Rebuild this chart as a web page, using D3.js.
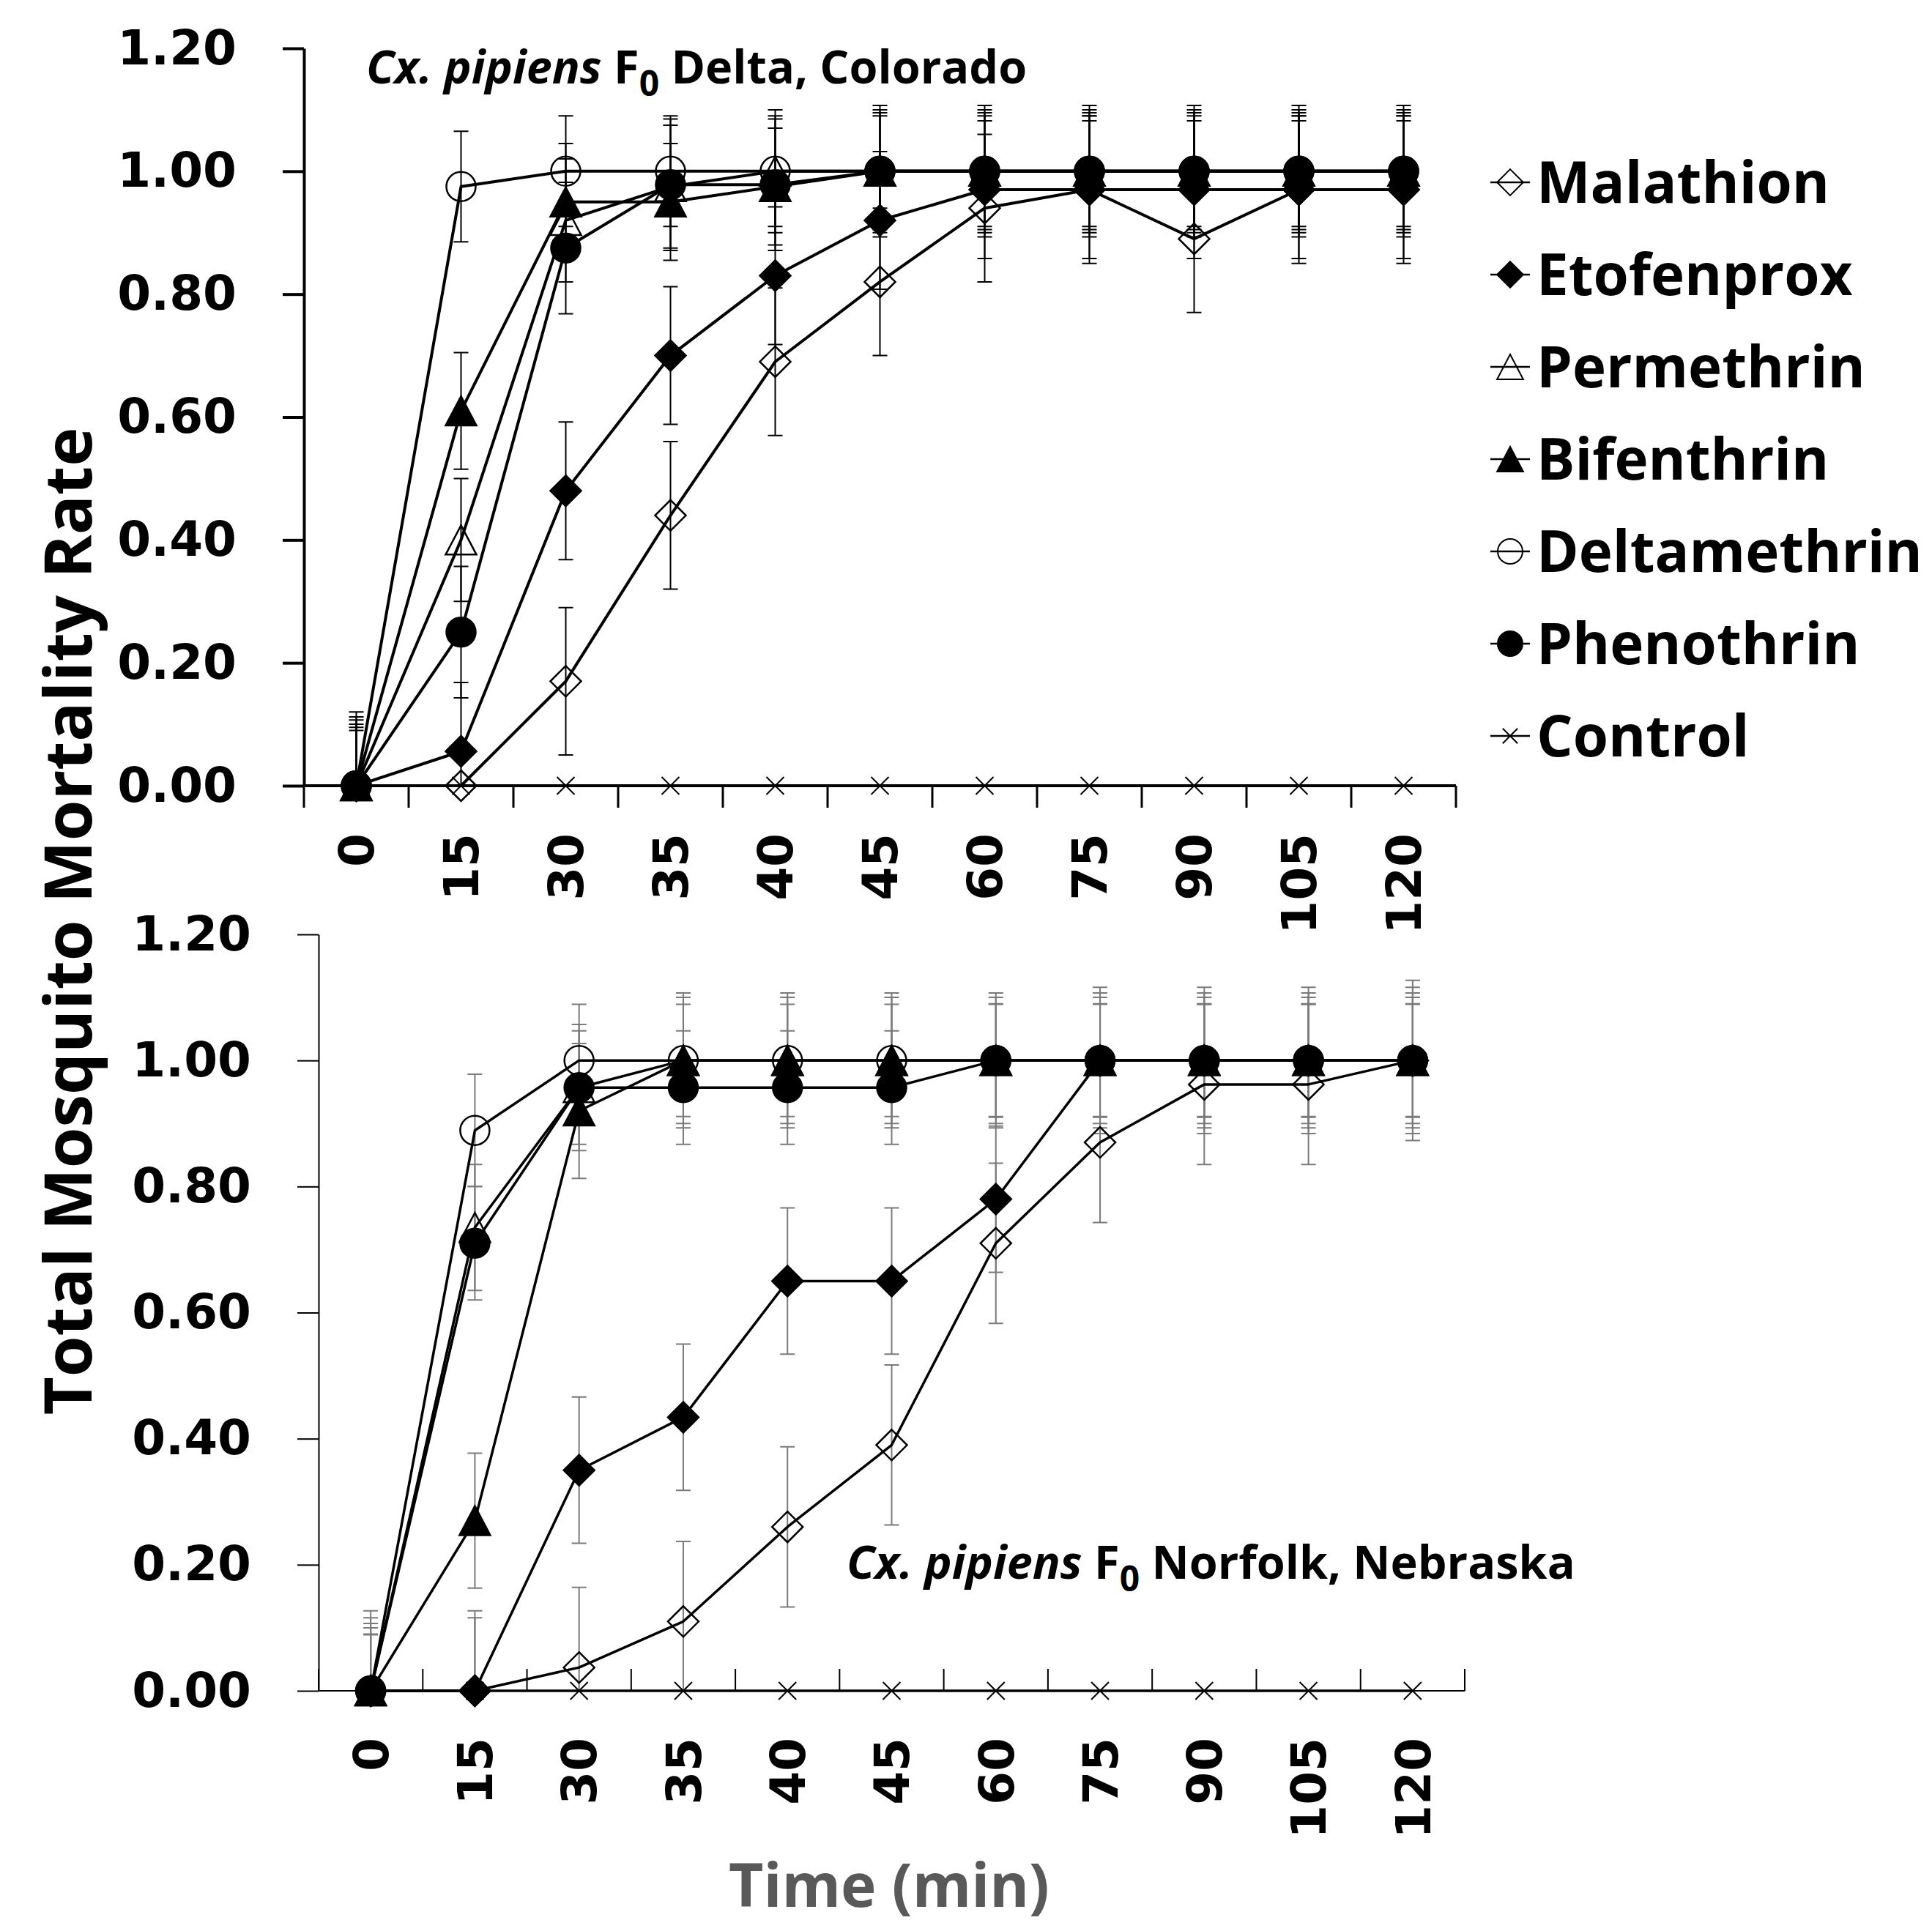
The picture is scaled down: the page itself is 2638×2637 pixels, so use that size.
<!DOCTYPE html>
<html>
<head>
<meta charset="utf-8">
<script src="https://cdn.jsdelivr.net/npm/d3@7"></script>
<style>
  body { margin: 0; background: #fff; }
  svg { display: block; }
</style>
</head>
<body>
<div id="chart"></div>
<script>
(function () {

	// x categories (minutes) and y ticks
	var times = ["0", "15", "30", "35", "40", "45", "60", "75", "90", "105", "120"];
	var yTicks = [0, 0.2, 0.4, 0.6, 0.8, 1.0, 1.2];
	var seriesNames = ["Malathion", "Etofenprox", "Permethrin", "Bifenthrin", "Deltamethrin", "Phenothrin", "Control"];

	// Cx. pipiens F0 Delta, Colorado
	var coMalathion    = [0, 0, 0.17, 0.44, 0.69, 0.82, 0.94, 0.97, 0.89, 0.97, 0.97];
	var coEtofenprox   = [0, 0.056, 0.48, 0.70, 0.83, 0.92, 0.97, 0.97, 0.97, 0.97, 0.97];
	var coPermethrin   = [0, 0.40, 0.92, 0.975, 1, 1, 1, 1, 1, 1, 1];
	var coBifenthrin   = [0, 0.61, 0.95, 0.95, 0.975, 1, 1, 1, 1, 1, 1];
	var coDeltamethrin = [0, 0.975, 1, 1, 1, 1, 1, 1, 1, 1, 1];
	var coPhenothrin   = [0, 0.25, 0.875, 0.978, 0.978, 1, 1, 1, 1, 1, 1];
	var coControl      = [0, 0, 0, 0, 0, 0, 0, 0, 0, 0, 0];

	var coMalathionErr    = [0.12, 0, 0.12, 0.12, 0.12, 0.12, 0.12, 0.12, 0.12, 0.12, 0.12];
	var coEtofenproxErr   = [0.112, 0.112, 0.112, 0.112, 0.112, 0.112, 0.112, 0.112, 0.112, 0.112, 0.112];
	var coPermethrinErr   = [0.10, 0.10, 0.10, 0.10, 0.10, 0.10, 0.10, 0.10, 0.10, 0.10, 0.10];
	var coBifenthrinErr   = [0.095, 0.095, 0.095, 0.095, 0.095, 0.095, 0.095, 0.095, 0.095, 0.095, 0.095];
	var coDeltamethrinErr = [0.09, 0.09, 0.09, 0.09, 0.09, 0.09, 0.09, 0.09, 0.09, 0.09, 0.09];
	var coPhenothrinErr   = [0.107, 0.107, 0.107, 0.107, 0.107, 0.107, 0.107, 0.107, 0.107, 0.107, 0.107];
	var coControlErr      = [0, 0, 0, 0, 0, 0, 0, 0, 0, 0, 0];

	// Cx. pipiens F0 Norfolk, Nebraska
	var neMalathion    = [0, 0, 0.037, 0.11, 0.26, 0.39, 0.71, 0.87, 0.962, 0.962, 1];
	var neEtofenprox   = [0, 0, 0.35, 0.434, 0.65, 0.65, 0.78, 1, 1, 1, 1];
	var nePermethrin   = [0, 0.735, 0.957, 1, 1, 1, 1, 1, 1, 1, 1];
	var neBifenthrin   = [0, 0.27, 0.92, 1, 1, 1, 1, 1, 1, 1, 1];
	var neDeltamethrin = [0, 0.889, 1, 1, 1, 1, 1, 1, 1, 1, 1];
	var nePhenothrin   = [0, 0.71, 0.957, 0.957, 0.957, 0.957, 1, 1, 1, 1, 1];
	var neControl      = [0, 0, 0, 0, 0, 0, 0, 0, 0, 0, 0];

	var neMalathionErr    = [0.127, 0.127, 0.127, 0.127, 0.127, 0.127, 0.127, 0.127, 0.127, 0.127, 0.127];
	var neEtofenproxErr   = [0.116, 0.116, 0.116, 0.116, 0.116, 0.116, 0.116, 0.116, 0.116, 0.116, 0.116];
	var nePermethrinErr   = [0.10, 0.10, 0.10, 0.10, 0.10, 0.10, 0.10, 0.10, 0.10, 0.10, 0.10];
	var neBifenthrinErr   = [0.107, 0.107, 0.107, 0.107, 0.107, 0.107, 0.107, 0.107, 0.107, 0.107, 0.107];
	var neDeltamethrinErr = [0.089, 0.089, 0.089, 0.089, 0.089, 0.089, 0.089, 0.089, 0.089, 0.089, 0.089];
	var nePhenothrinErr   = [0.09, 0.09, 0.09, 0.09, 0.09, 0.09, 0.09, 0.09, 0.09, 0.09, 0.09];
	var neControlErr      = [0, 0, 0, 0, 0, 0, 0, 0, 0, 0, 0];

	var markers = {
		"Malathion":    { shape: "diamond",  fill: false },
		"Etofenprox":   { shape: "diamond",  fill: true },
		"Permethrin":   { shape: "triangle", fill: false },
		"Bifenthrin":   { shape: "triangle", fill: true },
		"Deltamethrin": { shape: "circle",   fill: false },
		"Phenothrin":   { shape: "circle",   fill: true },
		"Control":      { shape: "cross",    fill: false }
	};

	function buildSeries(values, errors) {
		return seriesNames.map(function (name, i) {
			return {
				name: name,
				points: times.map(function (t, j) {
					return { t: t, v: values[i][j], e: errors[i][j] };
				})
			};
		});
	}

	var colorado = buildSeries(
		[coMalathion, coEtofenprox, coPermethrin, coBifenthrin, coDeltamethrin, coPhenothrin, coControl],
		[coMalathionErr, coEtofenproxErr, coPermethrinErr, coBifenthrinErr, coDeltamethrinErr, coPhenothrinErr, coControlErr]);
	var nebraska = buildSeries(
		[neMalathion, neEtofenprox, nePermethrin, neBifenthrin, neDeltamethrin, nePhenothrin, neControl],
		[neMalathionErr, neEtofenproxErr, nePermethrinErr, neBifenthrinErr, neDeltamethrinErr, nePhenothrinErr, neControlErr]);

	var W = 2638, H = 2637;
	var boldFont = "'Open Sans', 'DejaVu Sans', sans-serif";
	var tickFont = "'DejaVu Sans', sans-serif";

	var svg = d3.select("#chart").append("svg")
		.attr("width", W)
		.attr("height", H)
		.attr("viewBox", "0 0 " + W + " " + H);

	function markerPath(shape, k) {
		k = k || 1;
		if (shape === "circle") return d3.symbol(d3.symbolCircle, Math.PI * 400 * k * k)();
		if (shape === "diamond") return "M0," + (-21 * k) + "L" + (21 * k) + ",0L0," + (21 * k) + "L" + (-21 * k) + ",0Z";
		if (shape === "triangle") return "M0," + (-20 * k) + "L" + (21 * k) + "," + (20 * k) + "L" + (-21 * k) + "," + (20 * k) + "Z";
		return "M" + (-12 * k) + "," + (-12 * k) + "L" + (12 * k) + "," + (12 * k) +
			"M" + (-12 * k) + "," + (12 * k) + "L" + (12 * k) + "," + (-12 * k);
	}

	function styleMarker(sel, m) {
		sel.attr("d", markerPath(m.shape))
			.attr("fill", m.fill ? "#000" : "none")
			.attr("stroke", "#000")
			.attr("stroke-width", m.shape === "cross" ? 2 : 2.5);
	}

	function drawPanel(cfg) {
		var g = svg.append("g");

		var x = d3.scaleBand().domain(times).range(cfg.xRange);
		var y = d3.scaleLinear().domain([0, 1.2]).range(cfg.yRange);
		var cx = function (t) { return x(t) + x.bandwidth() / 2; };

		g.append("clipPath").attr("id", cfg.id + "-clip")
			.append("rect")
			.attr("x", cfg.xRange[0] - 40)
			.attr("y", y(1.3))
			.attr("width", cfg.xRange[1] - cfg.xRange[0] + 80)
			.attr("height", y(0) - y(1.3));

		// y axis
		var yAxis = g.append("g")
			.attr("transform", "translate(" + cfg.xRange[0] + ",0)")
			.call(d3.axisLeft(y).tickValues(yTicks).tickSize(29).tickSizeOuter(0)
				.tickPadding(63).tickFormat(d3.format(".2f")));
		yAxis.selectAll("path, line").attr("stroke", "#000").attr("stroke-width", cfg.axisWidth);
		yAxis.selectAll("text")
			.attr("font-family", tickFont)
			.attr("font-weight", "bold")
			.attr("font-size", 66)
			.attr("fill", "#000");

		// x axis line and boundary ticks
		g.append("line")
			.attr("x1", cfg.xRange[0]).attr("x2", cfg.xRange[1])
			.attr("y1", y(0)).attr("y2", y(0))
			.attr("stroke", "#000").attr("stroke-width", cfg.axisWidth);

		var bounds = d3.range(times.length + 1).map(function (i) { return cfg.xRange[0] + i * x.step(); });
		g.selectAll(".xtick").data(bounds).enter().append("line")
			.attr("x1", function (d) { return d; })
			.attr("x2", function (d) { return d; })
			.attr("y1", y(0))
			.attr("y2", y(0) + cfg.tickDir * 30)
			.attr("stroke", "#000").attr("stroke-width", cfg.tickWidth);

		g.selectAll(".xlab").data(times).enter().append("text")
			.attr("transform", function (d) { return "translate(" + cx(d) + "," + cfg.labelTop + ") rotate(-90)"; })
			.attr("text-anchor", "end")
			.attr("dy", "0.36em")
			.attr("font-family", tickFont)
			.attr("font-weight", "bold")
			.attr("font-size", 66)
			.text(function (d) { return d; });

		// error bars
		var eb = g.append("g").attr("clip-path", "url(#" + cfg.id + "-clip)")
			.attr("stroke", cfg.errColor).attr("stroke-width", 2).attr("fill", "none");
		cfg.data.forEach(function (s) {
			var pts = s.points.filter(function (p) { return p.e > 0; });
			eb.selectAll(null).data(pts).enter().append("path")
				.attr("d", function (p) {
					var px = cx(p.t), y1 = y(p.v + p.e), y2 = y(p.v - p.e);
					return "M" + px + "," + y1 + "V" + y2 +
						"M" + (px - 10) + "," + y1 + "H" + (px + 10) +
						"M" + (px - 10) + "," + y2 + "H" + (px + 10);
				});
		});

		// series lines and markers
		var line = d3.line().x(function (p) { return cx(p.t); }).y(function (p) { return y(p.v); });
		cfg.data.forEach(function (s) {
			g.append("path")
				.attr("d", line(s.points))
				.attr("fill", "none")
				.attr("stroke", "#000")
				.attr("stroke-width", cfg.lineWidth)
				.attr("stroke-linejoin", "round");
			g.selectAll(null).data(s.points).enter().append("path")
				.attr("transform", function (p) { return "translate(" + cx(p.t) + "," + y(p.v) + ")"; })
				.call(styleMarker, markers[s.name]);
		});

		// panel title
		var t = g.append("text")
			.attr("x", cfg.titleX).attr("y", cfg.titleY)
			.attr("font-family", boldFont)
			.attr("font-weight", "bold")
			.attr("font-size", 63)
			.attr("fill", "#000");
		t.append("tspan").attr("font-style", "italic").text("Cx. pipiens");
		t.append("tspan").text(" F");
		t.append("tspan").attr("font-size", 48).attr("dy", 17).text("0");
		t.append("tspan").attr("dy", -17).text(" " + cfg.place);
	}

	drawPanel({
		id: "co", data: colorado, place: "Delta, Colorado",
		xRange: [415, 1988], yRange: [1073, 66],
		axisWidth: 4, tickWidth: 3, tickDir: 1, lineWidth: 4,
		labelTop: 1138, errColor: "#000",
		titleX: 500, titleY: 114
	});

	drawPanel({
		id: "ne", data: nebraska, place: "Norfolk, Nebraska",
		xRange: [435, 2000], yRange: [2309, 1276],
		axisWidth: 2, tickWidth: 2, tickDir: -1, lineWidth: 3.5,
		labelTop: 2373, errColor: "#7a7a7a",
		titleX: 1156, titleY: 2156
	});

	// legend
	var legend = svg.append("g").attr("transform", "translate(2062,249)");
	var rows = legend.selectAll("g").data(seriesNames).enter().append("g")
		.attr("transform", function (d, i) { return "translate(0," + (i * 126) + ")"; });
	rows.append("line")
		.attr("x1", -27).attr("x2", 27)
		.attr("stroke", "#000").attr("stroke-width", 2.5);
	rows.append("path")
		.each(function (d) {
			var m = markers[d];
			d3.select(this)
				.attr("d", markerPath(m.shape, 0.85))
				.attr("fill", m.fill ? "#000" : "none")
				.attr("stroke", "#000")
				.attr("stroke-width", 2);
		});
	rows.append("text")
		.attr("x", 36).attr("y", 28)
		.attr("font-family", boldFont)
		.attr("font-weight", "bold")
		.attr("font-size", 78)
		.text(function (d) { return d; });

	// axis titles
	svg.append("text")
		.attr("transform", "translate(125,1258) rotate(-90)")
		.attr("text-anchor", "middle")
		.attr("font-family", boldFont)
		.attr("font-weight", "bold")
		.attr("font-size", 90)
		.text("Total Mosquito Mortality Rate");

	svg.append("text")
		.attr("x", 1214).attr("y", 2604)
		.attr("text-anchor", "middle")
		.attr("font-family", boldFont)
		.attr("font-weight", "bold")
		.attr("font-size", 82)
		.attr("fill", "#595959")
		.text("Time (min)");

}) ();
</script>
</body>
</html>
